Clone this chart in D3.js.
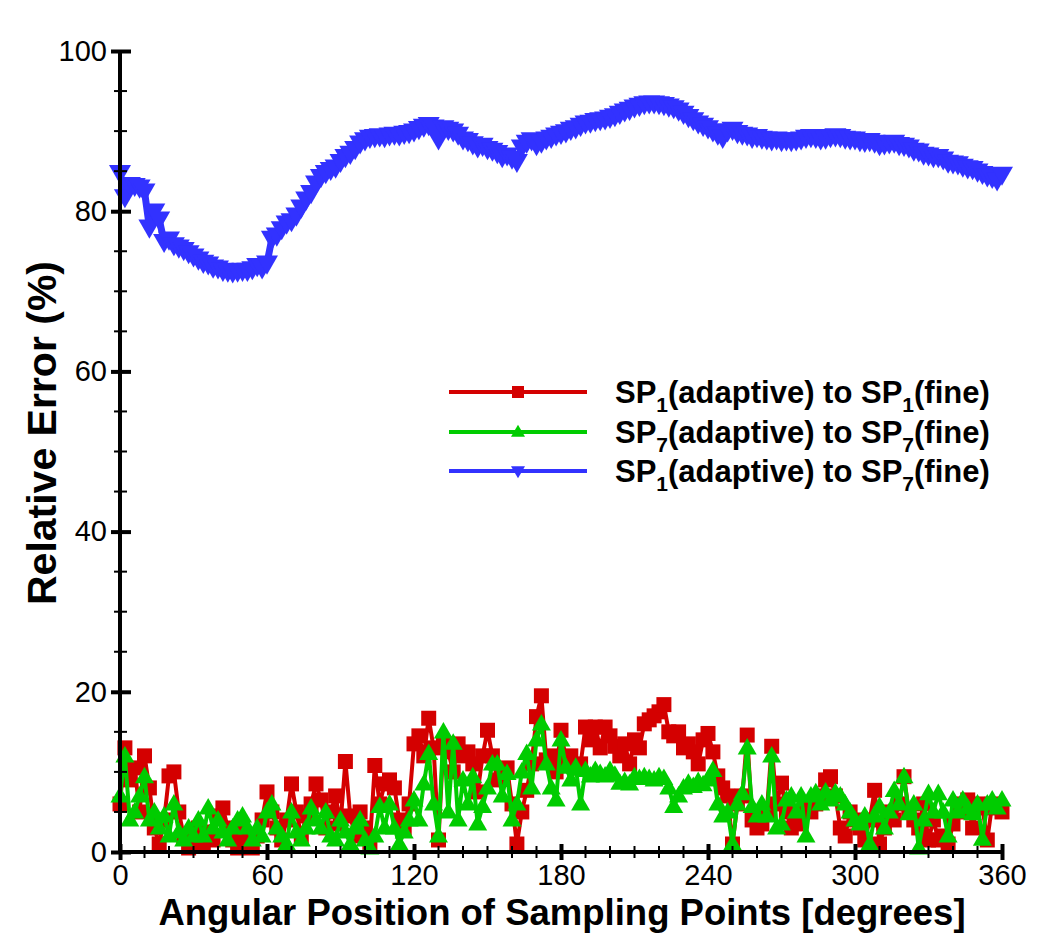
<!DOCTYPE html>
<html><head><meta charset="utf-8">
<script src="https://cdn.jsdelivr.net/npm/d3@7"></script>
<style>body{margin:0;background:#fff}svg{display:block}</style>
</head><body>
<svg id="chart" width="1050" height="945"></svg>
<script>
// Sampling angles (degrees)
const angles = [0,2,4,6,8,10,12,14,16,18,20,22,24,26,28,30,32,34,36,38,40,42,44,46,48,50,52,54,56,58,60,62,64,66,68,70,72,74,76,78,80,82,84,86,88,90,92,94,96,98,100,102,104,106,108,110,112,114,116,118,120,122,124,126,128,130,132,134,136,138,140,142,144,146,148,150,152,154,156,158,160,162,164,166,168,170,172,174,176,178,180,182,184,186,188,190,192,194,196,198,200,202,204,206,208,210,212,214,216,218,220,222,224,226,228,230,232,234,236,238,240,242,244,246,248,250,252,254,256,258,260,262,264,266,268,270,272,274,276,278,280,282,284,286,288,290,292,294,296,298,300,302,304,306,308,310,312,314,316,318,320,322,324,326,328,330,332,334,336,338,340,342,344,346,348,350,352,354,356,358,360];

// SP1(adaptive) to SP1(fine)
const sp1ToSp1 = [6,13,9,10.5,5,12,8,3,1,4,9.5,10,5,2,0.5,1.5,3,1,2.5,1.5,4.5,5.5,3,1.5,0.5,3,1.5,0.5,2,4,7.5,5,3,1.5,4,8.5,5,2,4.5,6,8.5,6.5,3,5,7,3.5,11.3,4.5,2,5,3,1,10.8,6,8.5,9,8,4,3,6,13.5,14.5,12,16.7,13,1.5,13.5,12.5,10,13.5,12,12.5,11,7.5,12,15.2,12,9,10,10.5,6,1,5,7.7,11,16.9,19.5,11.5,12,10,15.2,11.5,12,10.5,11,15.6,14,15.6,13,15.6,14.5,13.2,12,13.5,11,14,13,16,16.5,17,17.5,18.4,15,14.5,15,13,13.5,12.5,11,14,14.8,12.5,9.5,8,7,1,6,7,14.6,4,3,3.5,5,13.2,6,8.6,5,3,3.5,4,6,5,6,7,9,9.4,7,3,2,5,4,3,1.5,4,7.7,1,3,5,4,6,9.4,5,4,3,6,1.5,4,1.5,2,1,3.5,6,5,6.5,3,6,5.5,1.5,6,5.5,5];

// SP7(adaptive) to SP7(fine)
const sp7ToSp7 = [7,12,4,5,7,9.4,4,5,3,4.5,2,6,2.5,1.5,3,2,4,2,5.5,3,4,2.5,1.5,3,4,4.5,3,1.5,3,2,5,6,3,2,1,5,2.5,1.5,3,5.5,4,3,5,2,1.5,4,2.5,1,3,4,1.5,0.5,2,5.7,3,6,3,1,2.5,4,6.5,4,8.5,12.3,6,2,15,5,13.6,4,9,6,9.4,3.5,5.7,8,11,11,7,9.8,4,6,10,12.3,8,14,16,11,8,6.5,14,10.6,9,10.6,6,10.2,9.5,10.2,9.8,9.5,10.2,9.6,8.6,8.8,8.5,9.4,9.2,9.4,9.2,9,9.4,9.2,8,5.7,7,8,8.6,8.2,8.8,8.4,9,10.2,6,4.5,5,1,6,7.3,13,5.7,4.5,6,4.5,12,3,3.5,6.5,7,5,7,2,7,7.4,6,7.5,6.5,7.4,7,6,5,4,3.5,4.5,1,4.5,5.7,3,5,7.7,6,9.4,4.8,6,0.5,4,7.3,5,7.3,5,2,6.5,5,6.5,5.5,4.8,6,1.6,6,6.5,5.5,6.5];

// SP1(adaptive) to SP7(fine)
const sp1ToSp7 = [84.8,81.8,83.3,83.2,83.0,82.5,78.0,80.0,79.0,76.2,76.5,75.8,75.5,75.2,74.8,74.4,74.0,73.6,73.4,73.0,72.9,72.6,72.5,72.4,72.5,72.6,72.6,72.8,73.2,72.9,73.5,76.6,77.0,77.8,78.5,78.8,79.5,80.5,81.5,82.3,83.5,84.3,84.8,85.2,85.5,86.2,86.8,87.2,87.8,88.5,88.9,89.2,89.3,89.4,89.3,89.5,89.6,89.5,89.7,89.8,90.0,90.3,90.6,90.8,90.5,89.0,90.4,90.2,90.0,89.6,89.0,88.8,88.4,88.0,88.2,87.8,87.6,87.3,86.8,87.0,86.6,86.2,88.0,88.6,88.9,88.3,88.6,89.0,89.2,89.5,89.7,89.9,90.2,90.4,90.7,91.0,91.1,91.3,91.4,91.5,91.7,91.9,92.2,92.5,92.7,93.0,93.2,93.4,93.5,93.5,93.4,93.3,93.1,92.9,92.6,92.2,91.8,91.4,91.0,90.7,90.4,90.0,89.6,89.2,90.0,90.2,89.8,89.6,89.5,89.2,89.3,89.1,89.0,88.9,89.0,88.8,88.9,88.8,88.9,89.0,89.2,89.3,89.2,89.0,89.1,89.3,89.4,89.3,89.1,89.0,89.0,88.8,88.7,88.8,88.6,88.3,88.4,88.5,88.6,88.3,88.2,88.0,87.6,87.5,87.1,87.0,86.8,86.8,86.5,86.1,86.0,85.9,85.6,85.4,85.3,85.0,84.7,84.4,84.2,83.9,84.6];

const xTicks = [0,60,120,180,240,300,360];
const yTicks = [0,20,40,60,80,100];
const xMinorTicks = [10,20,30,40,50,70,80,90,100,110,130,140,150,160,170,190,200,210,220,230,250,260,270,280,290,310,320,330,340,350];
const yMinorTicks = [5,10,15,25,30,35,45,50,55,65,70,75,85,90,95];

const seriesNames = ["SP|1|(adaptive) to SP|1|(fine)", "SP|7|(adaptive) to SP|7|(fine)", "SP|1|(adaptive) to SP|7|(fine)"];
const seriesColors = ["#d40000", "#00cc00", "#3232ff"];
const seriesValues = [sp1ToSp1, sp7ToSp7, sp1ToSp7];
const seriesSymbols = ["square", "up", "down"];

const svg = d3.select("#chart");
const x = d3.scaleLinear().domain([0, 360]).range([120, 1002]);
const y = d3.scaleLinear().domain([0, 100]).range([852, 51]);

const FONT = "Liberation Sans, Arial, Helvetica, sans-serif";

function symbolPath(type, s) {
  if (type === "square") return `M${-s/2},${-s/2}h${s}v${s}h${-s}Z`;
  const h = s * 0.87;
  if (type === "up") return `M0,${-h*0.6}L${s/2},${h*0.4}L${-s/2},${h*0.4}Z`;
  return `M0,${h*0.6}L${s/2},${-h*0.4}L${-s/2},${-h*0.4}Z`;
}
const symbolSize = {square: 15, up: 19, down: 22};
const lineWidth = {square: 4, up: 4, down: 7};
const legendSymbolSize = {square: 12, up: 14, down: 14};

// draw series
const line = d3.line().x((d, i) => x(angles[i])).y(d => y(d));
seriesValues.forEach((vals, k) => {
  const g = svg.append("g");
  g.append("path").datum(vals).attr("d", line)
    .attr("fill", "none").attr("stroke", seriesColors[k]).attr("stroke-width", lineWidth[seriesSymbols[k]])
    .attr("stroke-linejoin", "round");
  g.selectAll("path.m").data(vals).enter().append("path").attr("class", "m")
    .attr("transform", (d, i) => `translate(${x(angles[i])},${y(d)})`)
    .attr("d", symbolPath(seriesSymbols[k], symbolSize[seriesSymbols[k]]))
    .attr("fill", seriesColors[k]);
});

// axes
const xAxis = svg.append("g").attr("transform", "translate(0,852)")
  .call(d3.axisBottom(x).tickValues(xTicks).tickSize(0).tickPadding(12).tickFormat(d3.format("d")));
xAxis.select(".domain").attr("stroke", "#000").attr("stroke-width", 4).attr("d", `M${x(0)-2},0H${x(360)+2}`);
xAxis.selectAll(".tick line").attr("y1", -8).attr("y2", 8).attr("stroke", "#000").attr("stroke-width", 4);
xAxis.selectAll(".tick text").attr("font-family", FONT).attr("font-size", 29).attr("fill", "#000");
svg.append("g").selectAll("line").data(xMinorTicks).enter().append("line")
  .attr("x1", d => x(d)).attr("x2", d => x(d)).attr("y1", 846).attr("y2", 858)
  .attr("stroke", "#000").attr("stroke-width", 2);

const yAxis = svg.append("g").attr("transform", `translate(${x(0)},0)`)
  .call(d3.axisLeft(y).tickValues(yTicks).tickSize(0).tickPadding(13).tickFormat(d3.format("d")));
yAxis.select(".domain").attr("stroke", "#000").attr("stroke-width", 4).attr("d", `M0,${y(0)+2}V${y(100)}`);
yAxis.selectAll(".tick line").attr("x1", -9).attr("x2", 11).attr("stroke", "#000").attr("stroke-width", 4);
yAxis.selectAll(".tick text").attr("font-family", FONT).attr("font-size", 29).attr("fill", "#000");
svg.append("g").selectAll("line").data(yMinorTicks).enter().append("line")
  .attr("x1", x(0) - 6).attr("x2", x(0) + 7).attr("y1", d => y(d)).attr("y2", d => y(d))
  .attr("stroke", "#000").attr("stroke-width", 2);

// axis titles
svg.append("text").attr("x", 562).attr("y", 925).attr("text-anchor", "middle")
  .attr("font-family", FONT).attr("font-weight", "bold").attr("font-size", 36.5).attr("fill", "#000")
  .text("Angular Position of Sampling Points [degrees]");
svg.append("text").attr("transform", "translate(56,433) rotate(-90)").attr("text-anchor", "middle")
  .attr("font-family", FONT).attr("font-weight", "bold").attr("font-size", 41).attr("fill", "#000")
  .text("Relative Error (%)");

// legend
const legendY = [392, 432, 471];
seriesNames.forEach((name, k) => {
  const g = svg.append("g").attr("transform", `translate(0,${legendY[k]})`);
  g.append("line").attr("x1", 449).attr("x2", 587).attr("y1", 0).attr("y2", 0)
    .attr("stroke", seriesColors[k]).attr("stroke-width", 4);
  g.append("path").attr("transform", "translate(518,0)")
    .attr("d", symbolPath(seriesSymbols[k], legendSymbolSize[seriesSymbols[k]]))
    .attr("fill", seriesColors[k]);
  const parts = name.split("|");
  const t = g.append("text").attr("x", 615).attr("y", 11)
    .attr("font-family", FONT).attr("font-weight", "bold").attr("font-size", 31).attr("fill", "#000");
  parts.forEach((p, i) => {
    if (i % 2 === 1) {
      t.append("tspan").attr("font-size", 21).attr("dy", 9).text(p);
    } else {
      const ts = t.append("tspan").text(p);
      if (i > 0) ts.attr("dy", -9);
    }
  });
});
</script>
</body></html>
